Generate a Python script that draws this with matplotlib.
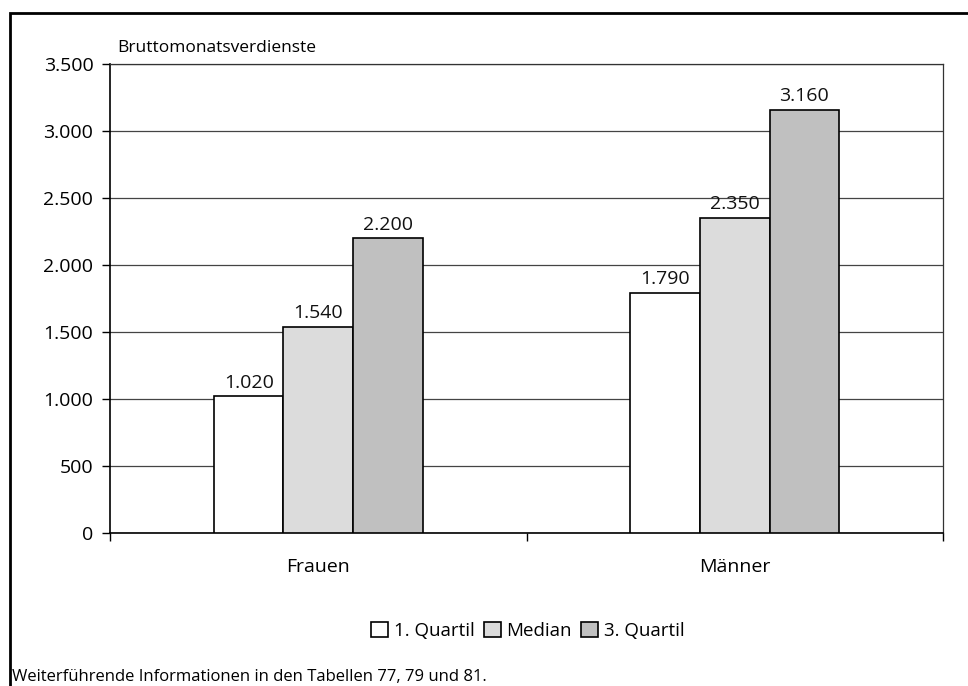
import numpy as np
import matplotlib.pyplot as plt
from matplotlib.patches import Rectangle

groups = ["Frauen", "Männer"]
series = ["1. Quartil", "Median", "3. Quartil"]
q1 = [1020, 1790]
median = [1540, 2350]
q3 = [2200, 3160]
colors = ["#ffffff", "#dcdcdc", "#c0c0c0"]
yticks = [0, 500, 1000, 1500, 2000, 2500, 3000, 3500]


def fmt(v):
    return f"{v:,.0f}".replace(",", ".")


plt.rcParams["font.family"] = ["Open Sans", "DejaVu Sans"]

fig = plt.figure(figsize=(9.68, 6.86), dpi=100)
ax = fig.add_axes([110 / 968, 1 - 533 / 686, 833 / 968, 469 / 686])

x = np.arange(len(groups))
w = 0.167
for i, (vals, c) in enumerate(zip([q1, median, q3], colors)):
    pos = x + (i - 1) * w
    ax.bar(pos, vals, width=w, color=c, edgecolor="black",
           linewidth=1.2, label=series[i], zorder=3)
    for p, v in zip(pos, vals):
        ax.text(p, v + 35, fmt(v), ha="center", va="bottom", fontsize=14,
                color="#111111")

ax.set_xlim(-0.5, 1.5)
ax.set_ylim(0, 3500)
ax.set_yticks(yticks)
ax.set_yticklabels([fmt(v) for v in yticks], fontsize=14)
ax.yaxis.grid(True, color="#444444", linewidth=0.9, zorder=0)
ax.set_axisbelow(True)

# Kategorien als Text, Striche an den Grenzen
ax.set_xticks([-0.5, 0.5, 1.5])
ax.set_xticklabels([])
ax.tick_params(axis="x", direction="out", length=6, width=1)
ax.tick_params(axis="y", direction="out", length=6, width=1, pad=6)
for xi, g in zip(x, groups):
    ax.text(xi, -255, g, ha="center", va="center", fontsize=14)

for s in ["left", "bottom"]:
    ax.spines[s].set_linewidth(1.2)
for s in ["top", "right"]:
    ax.spines[s].set_linewidth(0.9)
    ax.spines[s].set_color("#333333")

fig.text(117 / 968, 1 - 48 / 686, "Bruttomonatsverdienste", fontsize=12.5,
         va="center", ha="left")

fig.legend(loc="center", bbox_to_anchor=(528 / 968, 1 - 631 / 686),
           ncol=3, frameon=False, fontsize=13.5, handlelength=0.9,
           handleheight=0.9, handletextpad=0.3, columnspacing=0.5)

fig.text(12 / 968, 1 - 677 / 686, "Weiterführende Informationen in den Tabellen 77, 79 und 81.",
         fontsize=12, va="center", ha="left")

# Rahmen
fig.patches.append(Rectangle((10 / 968, -0.05), 1.0, 1 - 13 / 686 + 0.05,
                             transform=fig.transFigure, fill=False,
                             edgecolor="black", linewidth=2))

fig.savefig("out.png", dpi=100)
